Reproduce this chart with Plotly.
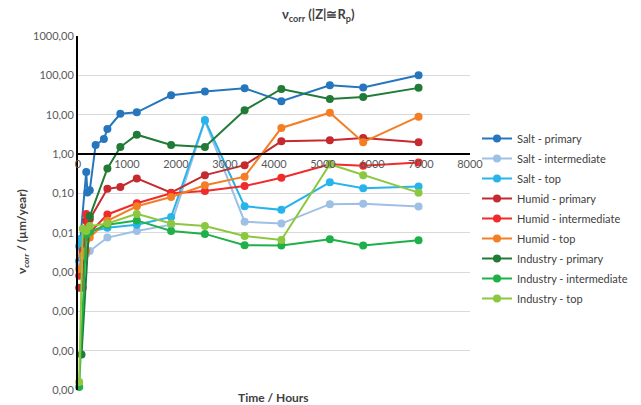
import plotly.graph_objects as go

# Exposure time (hours) and corrosion rate (µm/year) per environment / coating layer
salt_primary_t = [24, 48, 168, 192, 240, 360, 528, 600, 864, 1200, 1900, 2590, 3400, 4150, 5140, 5820, 6950]
salt_primary_v = [0.0019, 0.0068, 0.35, 0.105, 0.12, 1.7, 2.4, 4.3, 10.5, 11.5, 31, 39, 47, 22, 56, 49, 100]

salt_inter_t = [24, 96, 168, 240, 600, 1200, 1900, 2590, 3400, 4150, 5140, 5820, 6950]
salt_inter_v = [0.0015, 0.0023, 0.0029, 0.0034, 0.0075, 0.011, 0.016, 7.0, 0.019, 0.017, 0.053, 0.054, 0.046]

salt_top_t = [24, 48, 168, 240, 600, 1200, 1900, 2590, 3400, 4150, 5140, 5820, 6950]
salt_top_v = [0.0045, 0.0068, 0.009, 0.0105, 0.0133, 0.016, 0.025, 7.3, 0.047, 0.038, 0.19, 0.134, 0.15]

humid_primary_t = [24, 96, 168, 240, 600, 864, 1200, 1900, 2590, 3400, 4150, 5140, 5820, 6950]
humid_primary_v = [0.0004, 0.0004, 0.02, 0.022, 0.13, 0.145, 0.24, 0.104, 0.29, 0.52, 2.1, 2.25, 2.55, 2.0]

humid_inter_t = [24, 96, 168, 240, 600, 1200, 1900, 2590, 3400, 4150, 5140, 5820, 6950]
humid_inter_v = [0.0008, 0.0035, 0.03, 0.01, 0.029, 0.056, 0.1, 0.115, 0.153, 0.25, 0.55, 0.5, 0.61]

humid_top_t = [24, 96, 168, 240, 600, 1200, 1900, 2590, 3400, 4150, 5140, 5820, 6950]
humid_top_v = [0.0012, 0.0026, 0.0034, 0.0075, 0.02, 0.047, 0.081, 0.16, 0.265, 4.6, 11.2, 2.0, 8.9]

ind_primary_t = [72, 240, 600, 864, 1200, 1900, 2590, 3400, 4150, 5140, 5820, 6950]
ind_primary_v = [0.000008, 0.026, 0.43, 1.5, 3.1, 1.7, 1.5, 12.9, 45, 25, 28, 48]

ind_inter_t = [24, 168, 240, 600, 1200, 1900, 2590, 3400, 4150, 5140, 5820, 6950]
ind_inter_v = [0.0000012, 0.009, 0.0105, 0.016, 0.0205, 0.011, 0.0093, 0.0048, 0.0047, 0.0068, 0.0047, 0.0064]

ind_top_t = [24, 96, 168, 240, 600, 1200, 1900, 2590, 3400, 4150, 5140, 5820, 6950]
ind_top_v = [0.0000016, 0.0125, 0.011, 0.0147, 0.0172, 0.030, 0.0172, 0.0147, 0.0082, 0.0065, 0.55, 0.29, 0.104]

series_names = ["Salt - primary", "Salt - intermediate", "Salt - top",
                "Humid - primary", "Humid - intermediate", "Humid - top",
                "Industry - primary", "Industry - intermediate", "Industry - top"]

y_tickvals = [1000, 100, 10, 1, 0.1, 0.01, 0.001, 0.0001, 0.00001, 0.000001]
y_ticktext = ["1000,00", "100,00", "10,00", "1,00", "0,10", "0,01", "0,00", "0,00", "0,00", "0,00"]
x_tickvals = [0, 1000, 2000, 3000, 4000, 5000, 6000, 7000, 8000]

colors = ["#2676BE", "#9DC0E4", "#27B4EA",
          "#C52A2E", "#EF2B2B", "#F47E24",
          "#217A36", "#20B04A", "#8CC83F"]

data = [
    (salt_primary_t, salt_primary_v), (salt_inter_t, salt_inter_v), (salt_top_t, salt_top_v),
    (humid_primary_t, humid_primary_v), (humid_inter_t, humid_inter_v), (humid_top_t, humid_top_v),
    (ind_primary_t, ind_primary_v), (ind_inter_t, ind_inter_v), (ind_top_t, ind_top_v),
]

FONT = "Lato"
fig = go.Figure()
for i, ((t, v), name, c) in enumerate(zip(data, series_names, colors)):
    fig.add_trace(go.Scatter(
        x=t, y=v, name=name, mode="lines+markers",
        line=dict(color=c, width=2),
        marker=dict(color=c, size=8),
        legendgroup=f"g{i}", cliponaxis=False,
    ))

W, H = 641, 405
L, R, T, B = 78, 171, 36, 15
pw, ph = W - L - R, H - T - B

def px(x):
    return (x - L) / pw

def py(y):
    return (H - B - y) / ph

fig.update_layout(
    width=W, height=H,
    margin=dict(l=L, r=R, t=T, b=B, autoexpand=False),
    paper_bgcolor="white", plot_bgcolor="white",
    font=dict(family=FONT, size=11, color="#595959"),
    showlegend=True,
    legend=dict(
        x=px(477), y=py(124), xanchor="left", yanchor="top",
        font=dict(family=FONT, size=11, color="#404040"),
        tracegroupgap=1, bgcolor="rgba(0,0,0,0)",
    ),
    xaxis=dict(
        range=[0, 8000], tickvals=x_tickvals, ticktext=[str(v) for v in x_tickvals],
        anchor="free", position=6 / 9,
        showgrid=False, zeroline=False,
        showline=True, linecolor="black", linewidth=2,
        ticks="", tickfont=dict(family=FONT, size=11, color="#595959"),
    ),
    yaxis=dict(
        type="log", range=[-6, 3],
        tickvals=y_tickvals, ticktext=y_ticktext,
        showgrid=True, gridcolor="#D9D9D9", gridwidth=1,
        zeroline=False, showline=True, linecolor="black", linewidth=2,
        ticks="", ticklen=0, tickfont=dict(family=FONT, size=11, color="#595959"),
    ),
    annotations=[
        dict(text="<b>ν<sub>corr</sub> (|Z|≅R<sub>p</sub>)</b>", x=px(318), y=py(15),
             xref="paper", yref="paper", showarrow=False, xanchor="center", yanchor="middle",
             font=dict(family=FONT, size=13, color="#404040")),
        dict(text="<b>Time / Hours</b>", x=px(273), y=py(397),
             xref="paper", yref="paper", showarrow=False, xanchor="center", yanchor="middle",
             font=dict(family=FONT, size=12, color="#404040")),
        dict(text="<b>ν<sub><i>corr</i></sub> / (µm/year)</b>", x=px(22), y=py(232),
             xref="paper", yref="paper", showarrow=False, xanchor="center", yanchor="middle",
             textangle=-90, font=dict(family=FONT, size=12, color="#404040")),
    ],
)

fig.write_html("out.html")
